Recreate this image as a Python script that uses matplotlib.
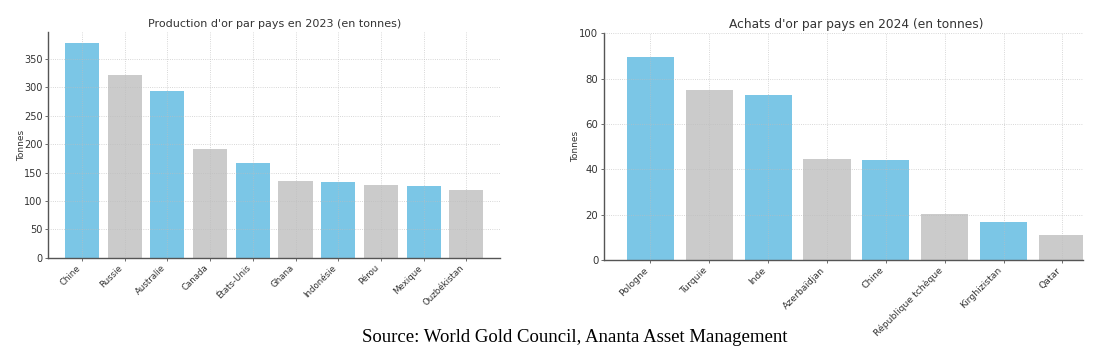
import matplotlib.pyplot as plt

# Production d'or 2023 (tonnes)
prod_pays = ["Chine", "Russie", "Australie", "Canada", "États-Unis",
             "Ghana", "Indonésie", "Pérou", "Mexique", "Ouzbékistan"]
prod_tonnes = [378.2, 321.8, 293.8, 191.9, 166.7, 135.1, 132.5, 128.8, 126.6, 119.6]

# Achats d'or 2024 (tonnes)
achat_pays = ["Pologne", "Turquie", "Inde", "Azerbaïdjan", "Chine",
              "République tchèque", "Kirghizistan", "Qatar"]
achat_tonnes = [89.6, 75.0, 72.8, 44.7, 44.2, 20.3, 16.6, 11.1]

BLUE = '#7BC6E6'
GREY = '#CBCBCB'
TXT = '#333333'


def style_axes(ax, ytick_size, xtick_size):
    # grille pointillée, visible aussi à travers les barres
    ax.set_axisbelow(False)
    ax.grid(True, linestyle=':', color='#bdbdbd', linewidth=0.6, alpha=0.8)
    for s in ['top', 'right']:
        ax.spines[s].set_visible(False)
    for s in ['left', 'bottom']:
        ax.spines[s].set_color('#555555')
        ax.spines[s].set_linewidth(1.0)
    ax.tick_params(axis='both', length=2, width=0.6,
                   colors='#555555', labelcolor=TXT, pad=2)
    ax.tick_params(axis='y', labelsize=ytick_size)
    ax.tick_params(axis='x', labelsize=xtick_size)
    ax.set_ylabel("Tonnes", fontsize=6.5, color=TXT)
    ax.yaxis.set_label_coords(-0.050, 0.5)


fig = plt.figure(figsize=(10.94, 3.52), dpi=100)

# --- gauche : production
ax1 = fig.add_axes([0.0441, 0.2679, 0.4130, 0.6403])
x1 = range(len(prod_pays))
cols1 = [BLUE if i % 2 == 0 else GREY for i in x1]
ax1.bar(x1, prod_tonnes, width=0.8, color=cols1)
ax1.set_xticks(list(x1))
ax1.set_xticklabels(prod_pays, rotation=45, ha='right')
ax1.set_xlim(-0.79, len(prod_pays) - 0.21)
ax1.set_ylim(0, max(prod_tonnes) * 1.05)
style_axes(ax1, 7, 6.2)
ax1.set_title("Production d'or par pays en 2023 (en tonnes)",
              fontsize=8, color=TXT, pad=4)

# --- droite : achats (image coupée à droite)
ax2 = fig.add_axes([0.5521, 0.2614, 0.4378, 0.6440])
x2 = range(len(achat_pays))
cols2 = [BLUE if i % 2 == 0 else GREY for i in x2]
ax2.bar(x2, achat_tonnes, width=0.8, color=cols2)
ax2.set_xticks(list(x2))
ax2.set_xticklabels(achat_pays, rotation=45, ha='right')
ax2.set_xlim(-0.79, 7.35)
ax2.set_ylim(0, 100)
style_axes(ax2, 7.3, 6.7)
ax2.set_title("Achats d'or par pays en 2024 (en tonnes)",
              fontsize=8.8, color=TXT, pad=4)
ax2.title.set_x(0.527)

fig.text(0.525, 0.04, "Source: World Gold Council, Ananta Asset Management",
         ha='center', va='center', fontsize=13.5, family='Liberation Serif',
         color='black')

fig.savefig("out.png", dpi=100)
